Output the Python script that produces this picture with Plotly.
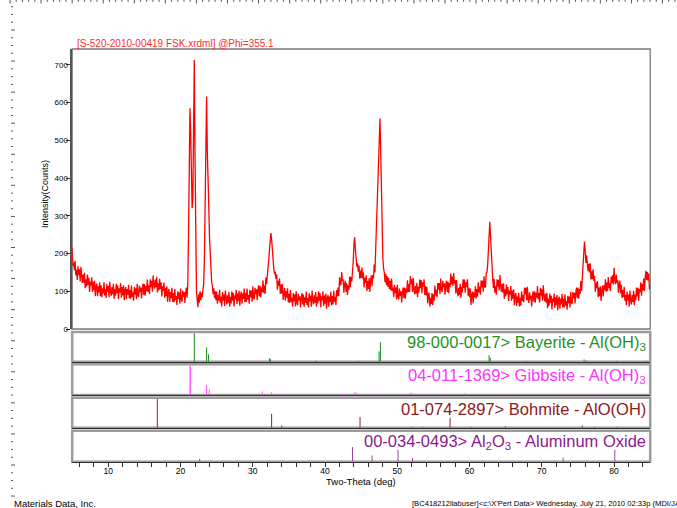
import plotly.graph_objects as go

# ---------------- data ----------------
SCAN_START = 5.0   # deg two-theta
SCAN_STEP = 0.1    # deg
COUNTS = [
    214, 167, 176, 156, 181, 142, 157, 130, 166, 143, 158, 126, 165, 137, 122, 144, 123, 149, 108, 132,
    113, 144, 117, 136, 98, 126, 115, 137, 98, 125, 103, 128, 87, 113, 120, 87, 113, 97, 124, 87,
    116, 84, 108, 94, 124, 89, 106, 82, 120, 98, 114, 84, 125, 100, 88, 111, 92, 120, 80, 106,
    88, 120, 95, 115, 79, 108, 97, 121, 83, 111, 89, 116, 76, 103, 111, 79, 106, 91, 117, 81,
    103, 80, 115, 85, 97, 75, 111, 91, 108, 79, 120, 90, 85, 115, 98, 110, 81, 107, 120, 90,
    119, 88, 114, 100, 131, 98, 116, 93, 132, 111, 128, 99, 142, 118, 107, 131, 111, 138, 97, 121,
    103, 133, 106, 124, 86, 113, 101, 123, 83, 109, 87, 113, 72, 98, 106, 72, 98, 82, 109, 72,
    95, 71, 106, 76, 87, 64, 100, 80, 97, 67, 107, 77, 72, 102, 85, 98, 69, 96, 110, 83,
    120, 250, 470, 585, 520, 360, 320, 345, 640, 713, 455, 170, 98, 78, 58, 92, 70, 100, 76, 96,
    84, 106, 118, 190, 330, 540, 616, 470, 350, 330, 245, 185, 140, 125, 114, 92, 108, 82, 100, 76,
    99, 67, 90, 75, 104, 69, 85, 60, 98, 75, 91, 61, 102, 77, 65, 89, 70, 98, 59, 85,
    68, 100, 75, 95, 60, 89, 79, 104, 66, 94, 74, 101, 62, 89, 99, 67, 94, 80, 107, 71,
    95, 72, 107, 78, 90, 67, 104, 84, 102, 72, 113, 84, 78, 109, 92, 105, 76, 103, 116, 87,
    114, 84, 110, 97, 129, 96, 115, 93, 136, 119, 138, 150, 182, 208, 236, 254, 238, 202, 176, 160,
    145, 152, 133, 145, 104, 128, 114, 134, 93, 118, 94, 119, 77, 102, 109, 75, 100, 83, 108, 71,
    93, 69, 103, 72, 83, 59, 95, 74, 91, 60, 100, 70, 63, 93, 75, 87, 57, 83, 95, 65,
    91, 59, 84, 69, 99, 64, 82, 57, 95, 73, 89, 59, 102, 77, 65, 89, 70, 98, 59, 85,
    68, 100, 75, 95, 58, 87, 76, 100, 61, 89, 67, 94, 54, 81, 90, 59, 86, 71, 99, 63,
    87, 65, 101, 72, 85, 64, 103, 87, 110, 87, 137, 117, 118, 151, 128, 132, 96, 118, 128, 98,
    122, 90, 116, 104, 139, 111, 138, 126, 178, 180, 225, 243, 210, 187, 165, 174, 152, 168, 133, 155,
    135, 163, 134, 150, 110, 136, 122, 142, 101, 127, 106, 135, 98, 129, 142, 113, 143, 134, 171, 150,
    215, 260, 330, 410, 470, 530, 558, 470, 370, 250, 185, 160, 150, 124, 146, 116, 140, 112, 136, 106,
    128, 102, 134, 101, 110, 84, 117, 95, 110, 78, 117, 85, 78, 107, 88, 100, 70, 97, 110, 82,
    110, 80, 107, 95, 129, 98, 119, 98, 140, 119, 132, 98, 136, 107, 92, 114, 94, 122, 84, 112,
    97, 131, 108, 130, 95, 124, 112, 132, 90, 114, 89, 112, 68, 91, 96, 60, 83, 66, 95, 63,
    92, 75, 115, 89, 104, 84, 122, 104, 122, 93, 134, 104, 98, 128, 110, 121, 91, 117, 128, 98,
    125, 95, 122, 111, 147, 118, 139, 114, 148, 120, 130, 94, 130, 101, 87, 109, 90, 119, 82, 111,
    97, 132, 109, 131, 96, 124, 112, 132, 88, 110, 84, 107, 64, 90, 99, 68, 97, 84, 113, 80,
    106, 86, 124, 97, 112, 91, 129, 110, 128, 99, 140, 112, 110, 148, 150, 168, 200, 232, 284, 245,
    195, 140, 134, 109, 133, 96, 114, 91, 132, 112, 130, 102, 143, 115, 99, 119, 96, 121, 80, 105,
    87, 118, 92, 111, 74, 102, 91, 114, 75, 102, 80, 105, 63, 88, 95, 61, 86, 70, 96, 60,
    83, 62, 100, 74, 90, 71, 110, 92, 109, 76, 112, 78, 69, 97, 78, 89, 60, 87, 100, 72,
    100, 70, 96, 83, 114, 79, 95, 70, 109, 88, 105, 75, 116, 89, 73, 93, 70, 96, 55, 80,
    62, 94, 69, 88, 52, 81, 71, 94, 56, 84, 63, 90, 50, 77, 86, 54, 81, 66, 93, 57,
    80, 57, 92, 62, 74, 51, 88, 68, 86, 57, 98, 70, 66, 98, 82, 96, 68, 96, 110, 82,
    110, 80, 106, 93, 127, 101, 138, 160, 210, 232, 210, 175, 195, 169, 153, 173, 150, 174, 131, 153,
    132, 158, 127, 141, 99, 123, 108, 127, 85, 110, 87, 113, 74, 103, 115, 86, 116, 103, 132, 98,
    123, 101, 137, 108, 122, 101, 139, 122, 143, 118, 162, 130, 119, 144, 122, 130, 96, 119, 128, 94,
    117, 82, 103, 85, 112, 75, 90, 63, 99, 76, 91, 60, 102, 77, 65, 90, 72, 101, 63, 91,
    76, 110, 87, 109, 75, 106, 98, 124, 88, 119, 102, 134, 100, 135, 154, 130, 151, 128, 147, 105,
    116,
]

# reference patterns: stick positions (deg) and relative intensities (%)
BAYERITE_POS = [21.90, 23.60, 23.86, 32.30, 32.45, 38.70, 44.65, 47.47, 47.66, 53.85,
                62.70, 62.86, 67.80, 75.85, 76.20, 80.40, 84.50]
BAYERITE_INT = [100, 50, 26, 12, 9, 4, 3, 36, 68, 2, 23, 14, 3, 8, 4, 3, 3]

GIBBSITE_POS = [21.30, 21.38, 23.60, 23.96, 30.90, 31.30, 32.60, 33.55, 42.35, 42.65,
                42.90, 44.05, 44.25, 45.30, 46.20, 47.15, 48.30, 49.45, 50.40, 51.76,
                52.00, 52.70, 54.10, 55.50, 56.80, 59.40, 60.50, 61.90, 63.76, 65.15,
                66.06, 66.75, 68.60, 70.20, 71.10, 72.50, 73.45, 74.80, 75.50, 76.40,
                77.40, 78.10, 79.00, 80.10, 81.30, 82.45, 83.10, 84.05]
GIBBSITE_INT = [100, 97, 34, 19, 6, 12, 9, 4, 3, 4,
                3, 7, 9, 3, 3, 4, 2, 3, 3, 6,
                7, 3, 3, 2, 3, 7, 2, 3, 2, 2,
                3, 2, 3, 2, 3, 2, 3, 2, 3, 2,
                3, 3, 2, 3, 2, 3, 2, 3]

BOHMITE_POS = [16.78, 32.60, 34.00, 44.84, 52.00, 53.50, 57.30, 60.20, 64.95, 75.60, 77.30, 80.40]
BOHMITE_INT = [100, 48, 8, 37, 3, 3, 34, 3, 5, 8, 3, 3]

AL2O3_POS = [22.65, 43.80, 46.50, 50.10, 52.10, 72.95, 80.10]
AL2O3_INT = [10, 49, 21, 40, 13, 14, 40]

PHASE_LABELS = [
    "98-000-0017> Bayerite - Al(OH)<sub>3</sub>",
    "04-011-1369> Gibbsite - Al(OH)<sub>3</sub>",
    "01-074-2897> Bohmite - AlO(OH)",
    "00-034-0493> Al<sub>2</sub>O<sub>3</sub> - Aluminum Oxide",
]
PHASE_TEXT_COLORS = ["#1f921f", "#ff33ff", "#8b1a1a", "#8b1a8b"]
PHASE_LINE_COLORS = ["#1a8c1a", "#ff55ff", "#8b2525", "#a040a0"]

X_TICKS = [10, 20, 30, 40, 50, 60, 70, 80]
Y_TICKS = [0, 100, 200, 300, 400, 500, 600, 700]

TITLE = "[S-520-2010-00419 FSK.xrdml] @Phi=355.1"
FOOT_LEFT = "Materials Data, Inc."
FOOT_RIGHT = "[BC418212llabuser]&lt;c:\\X'Pert Data&gt; Wednesday, July 21, 2010 02:33p (MDI/JADE8)"

# ---------------- figure ----------------
W, H = 677, 508
FONT = "Liberation Sans, Arial, sans-serif"

two_theta = [round(SCAN_START + SCAN_STEP * i, 2) for i in range(len(COUNTS))]


def ydom(top_px, bot_px):
    return [(H - bot_px) / H, (H - top_px) / H]


XDOM = [72.2 / W, 650.2 / W]
YDOMS = [ydom(49, 329), ydom(332, 361.7), ydom(364.3, 395), ydom(397.7, 427.7), ydom(430.7, 461.7)]


def sticks(pos, inten):
    xs, ys = [], []
    for p, h in zip(pos, inten):
        xs += [p, p, None]
        ys += [0, h, None]
    return xs, ys


fig = go.Figure()
fig.add_trace(go.Scatter(x=two_theta, y=COUNTS, mode="lines",
                         line=dict(color="#ff0000", width=1.3), xaxis="x", yaxis="y",
                         hoverinfo="skip", showlegend=False))

phases = [(BAYERITE_POS, BAYERITE_INT), (GIBBSITE_POS, GIBBSITE_INT),
          (BOHMITE_POS, BOHMITE_INT), (AL2O3_POS, AL2O3_INT)]
for i, (pos, inten) in enumerate(phases):
    xs, ys = sticks(pos, inten)
    n = i + 2
    fig.add_trace(go.Scatter(x=xs, y=ys, mode="lines",
                             line=dict(color=PHASE_LINE_COLORS[i], width=1),
                             xaxis=f"x{n}", yaxis=f"y{n}", hoverinfo="skip",
                             showlegend=False))

layout = dict(
    width=W, height=H,
    margin=dict(l=0, r=0, t=0, b=0, autoexpand=False),
    paper_bgcolor="white", plot_bgcolor="white",
    font=dict(family=FONT, color="#000000"),
    showlegend=False,
)

layout["xaxis"] = dict(domain=XDOM, range=[5, 85], showticklabels=False, ticks="",
                       showgrid=False, zeroline=False, showline=False, anchor="y")
layout["yaxis"] = dict(domain=YDOMS[0], range=[0, 742], tickvals=Y_TICKS,
                       ticks="outside", ticklen=4, tickcolor="#333", ticklabelstandoff=-3,
                       tickfont=dict(size=8, family=FONT), showgrid=False, zeroline=False,
                       showline=True, linecolor="#555555", linewidth=1.5, anchor="x")
for n in range(2, 6):
    ax = dict(domain=XDOM, range=[5, 85], matches="x", showgrid=False, zeroline=False,
              showline=True, linecolor="#303030", linewidth=1, anchor=f"y{n}",
              showticklabels=False, ticks="")
    if n == 5:
        ax.update(showticklabels=True, tickvals=X_TICKS, ticks="outside", ticklen=4,
                  tickcolor="#333", tickfont=dict(size=8.5, family=FONT),
                  ticklabelstandoff=-3,
                  minor=dict(tickvals=list(range(6, 85, 2)), ticks="outside", ticklen=4,
                             tickcolor="#333"))
    layout[f"xaxis{n}"] = ax
    layout[f"yaxis{n}"] = dict(domain=YDOMS[n - 1], range=[0, 104], showticklabels=False,
                               ticks="", showgrid=False, zeroline=False, showline=False,
                               anchor=f"x{n}")

fig.update_layout(**layout)

shapes = [dict(type="rect", xref="x domain", yref="y domain", x0=0, x1=1, y0=0, y1=1,
               line=dict(color="#7a7a7a", width=1.3), layer="below")]
for n in range(2, 6):
    shapes.append(dict(type="rect", xref=f"x{n} domain", yref=f"y{n} domain",
                       x0=0, x1=1, y0=0, y1=1, line=dict(color="#9c9c9c", width=2.5),
                       layer="below"))

# page rulers (top and left edges)
top_path = []
k = 0
xpx = 10.0
while xpx < W:
    ln = 3.5 if k % 5 == 0 else 1.8
    top_path.append(f"M{xpx / W:.5f},1 L{xpx / W:.5f},{1 - ln / H:.5f}")
    xpx += 31.07 / 5
    k += 1
shapes.append(dict(type="path", xref="paper", yref="paper", path=" ".join(top_path),
                   line=dict(color="#555", width=1)))
left_path = []
k = 0
ypx = 6.7
while ypx < 498:
    x1 = 15 if k % 4 == 3 else 13
    left_path.append(f"M{11 / W:.5f},{1 - ypx / H:.5f} L{x1 / W:.5f},{1 - ypx / H:.5f}")
    ypx += 31.07 / 4
    k += 1
shapes.append(dict(type="path", xref="paper", yref="paper", path=" ".join(left_path),
                   line=dict(color="#555", width=1)))
fig.update_layout(shapes=shapes)

annotations = [
    dict(text=TITLE, x=75 / W, y=(H - 43.5) / H, xanchor="left", yanchor="middle",
         font=dict(size=10, color="#ff2a2a", family=FONT)),
    dict(text="Intensity(Counts)", x=45 / W, y=(H - 194) / H, textangle=-90,
         xanchor="center", yanchor="middle", font=dict(size=9, family=FONT)),
    dict(text="Two-Theta (deg)", x=361 / W, y=(H - 481) / H, xanchor="center",
         yanchor="middle", font=dict(size=9.5, family=FONT)),
    dict(text=FOOT_LEFT, x=12 / W, y=0, xanchor="left", yanchor="bottom", yshift=-3,
         font=dict(size=9.5, family=FONT)),
    dict(text=FOOT_RIGHT, x=410 / W, y=0, xanchor="left", yanchor="bottom", yshift=-2,
         font=dict(size=7.6, family=FONT)),
]
label_y = [342.5, 375.5, 409, 441.5]
for i, txt in enumerate(PHASE_LABELS):
    annotations.append(dict(text=txt, x=648 / W, y=(H - label_y[i]) / H, xanchor="right",
                            yanchor="middle",
                            font=dict(size=16.5, color=PHASE_TEXT_COLORS[i], family=FONT)))
for a in annotations:
    a.update(xref="paper", yref="paper", showarrow=False)
fig.update_layout(annotations=annotations)

fig.write_html("out.html", config={"displayModeBar": False},
               post_script="document.body.style.margin='0px';")
